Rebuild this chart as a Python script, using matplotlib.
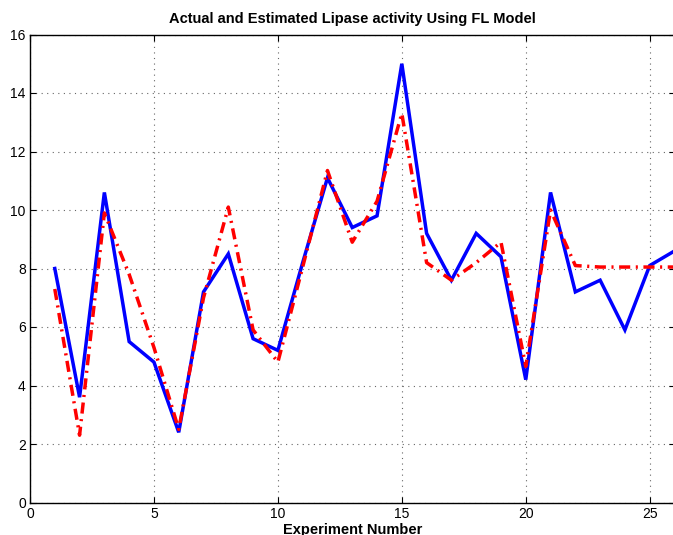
import matplotlib
matplotlib.use("Agg")
import matplotlib.pyplot as plt

plt.rcParams["font.family"] = ["Liberation Sans", "DejaVu Sans"]

# experiment numbers and lipase activity
experiment = list(range(1, 27))
actual = [8.0, 3.6, 10.6, 5.5, 4.8, 2.4, 7.2, 8.5, 5.6, 5.2,
          8.2, 11.1, 9.4, 9.8, 15.0, 9.2, 7.6, 9.2, 8.4, 4.2,
          10.6, 7.2, 7.6, 5.9, 8.1, 8.6]
estimated = [7.3, 2.3, 9.9, 7.8, 5.3, 2.5, 7.0, 10.1, 5.9, 4.8,
             8.05, 11.35, 8.9, 10.3, 13.3, 8.2, 7.6, 8.2, 8.9, 4.65,
             10.0, 8.1, 8.05, 8.05, 8.05, 8.05]

x_ticks = [0, 5, 10, 15, 20, 25]
y_ticks = [0, 2, 4, 6, 8, 10, 12, 14, 16]

fig = plt.figure(figsize=(6.73, 5.35), dpi=100)
ax = fig.add_axes([30 / 673, 1 - 502.5 / 535, (674.5 - 30) / 673, (502.5 - 34.5) / 535])

ax.plot(experiment, actual, color="#0000ff", linewidth=2.5, solid_joinstyle="miter")
ax.plot(experiment, estimated, color="#ff0000", linewidth=2.5,
        linestyle=(0, (3.2, 1.6, 0.6, 1.6)))

ax.set_xlim(0, 26)
ax.set_ylim(0, 16)
ax.set_xticks(x_ticks)
ax.set_yticks(y_ticks)
ax.tick_params(direction="in", length=4, labelsize=10, top=True, right=True,
               width=0.8, pad=3)
ax.grid(True, linestyle=(0, (1, 4)), color="#666666", linewidth=0.8)
for spine in ax.spines.values():
    spine.set_linewidth(1.0)

ax.set_title("Actual and Estimated Lipase activity Using FL Model",
             fontsize=10.5, fontweight="bold", pad=8)
ax.set_xlabel("Experiment Number", fontsize=10.5, fontweight="bold", labelpad=2)

fig.savefig("out.png", dpi=100)
